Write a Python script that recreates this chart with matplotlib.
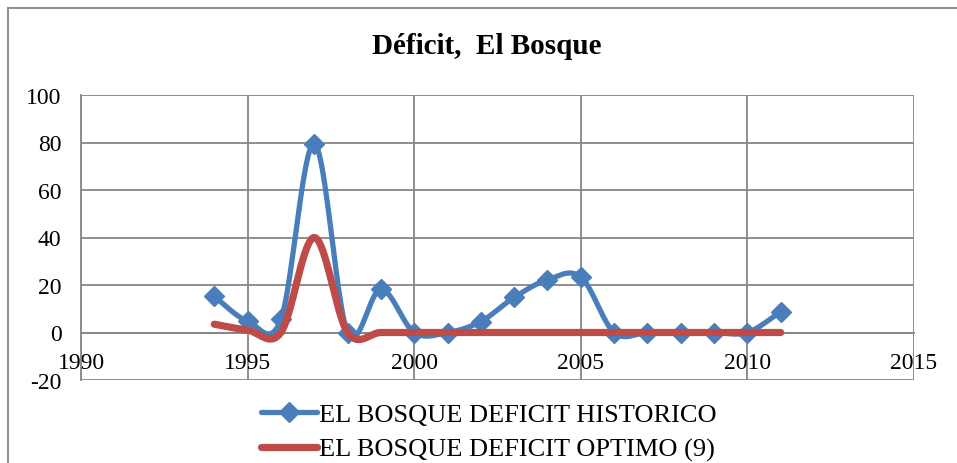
import numpy as np
import matplotlib
matplotlib.use("Agg")
import matplotlib.pyplot as plt
from matplotlib.lines import Line2D

years = [1994, 1995, 1996, 1997, 1998, 1999, 2000, 2001, 2002, 2003, 2004, 2005, 2006, 2007, 2008, 2009, 2010, 2011]
historico = [15.2, 4.8, 5.5, 79.5, 0, 18.2, 0, 0, 4.6, 14.8, 22.2, 23.4, 0, 0, 0, 0, 0, 8.8]
optimo = [3.5, 1.0, 0, 40, 0, 0, 0, 0, 0, 0, 0, 0, 0, 0, 0, 0, 0, 0]

x_ticks = [1990, 1995, 2000, 2005, 2010, 2015]
y_ticks = [-20, 0, 20, 40, 60, 80, 100]

title = "Déficit,  El Bosque"
lab_hist = "EL BOSQUE DEFICIT HISTORICO"
lab_opt = "EL BOSQUE DEFICIT OPTIMO (9)"

BLUE = "#4a7ebb"
RED = "#be4b48"
GRID = "#868686"

plt.rcParams["font.family"] = ["Liberation Serif", "DejaVu Serif"]
plt.rcParams["axes.unicode_minus"] = False


def smooth(x, y, n=40):
    # Catmull-Rom style curve, like the "smoothed line" option of a spreadsheet
    x = np.asarray(x, float)
    y = np.asarray(y, float)
    px = np.concatenate([[x[0]], x, [x[-1]]])
    py = np.concatenate([[y[0]], y, [y[-1]]])
    t = np.linspace(0, 1, n)
    xs, ys = [], []
    for i in range(1, len(px) - 2):
        for p, out in ((px, xs), (py, ys)):
            p0, p1, p2, p3 = p[i - 1], p[i], p[i + 1], p[i + 2]
            c1 = p1 + (p2 - p0) / 6
            c2 = p2 - (p3 - p1) / 6
            out.append((1 - t) ** 3 * p1 + 3 * (1 - t) ** 2 * t * c1
                       + 3 * (1 - t) * t ** 2 * c2 + t ** 3 * p2)
    return np.concatenate(xs), np.concatenate(ys)


fig = plt.figure(figsize=(9.57, 4.64), dpi=100)
ax = fig.add_axes([81 / 957, 1 - 381 / 464, (914 - 81) / 957, (381 - 96) / 464])

hx, hy = smooth(years, historico)
ox, oy = smooth(years, optimo)
ax.plot(hx, hy, color=BLUE, lw=3.8, solid_capstyle="round", zorder=3)
ax.plot(years, historico, ls="none", marker="D", ms=10, color=BLUE, zorder=3)
ax.plot(ox, oy, color=RED, lw=5.2, solid_capstyle="round", zorder=4)

ax.set_xlim(1990, 2015)
ax.set_ylim(-20, 100)
ax.set_xticks(x_ticks)
ax.set_yticks(y_ticks)
ax.grid(True, color=GRID, lw=1.3)
ax.set_axisbelow(True)
for s in ("top", "right"):
    ax.spines[s].set_visible(False)
ax.spines["left"].set_color(GRID)
ax.spines["left"].set_linewidth(1.3)
ax.spines["bottom"].set_position(("data", 0))
ax.spines["bottom"].set_color(GRID)
ax.spines["bottom"].set_linewidth(1.3)
ax.tick_params(axis="x", length=0, pad=14, labelsize=17)
ax.tick_params(axis="y", length=0, pad=14, labelsize=17)

fig.text(487 / 957, 1 - 47 / 464, title, ha="center", va="center",
         fontsize=21, fontweight="bold")

handles = [
    Line2D([], [], color=BLUE, lw=3.8, marker="D", ms=10, solid_capstyle="round"),
    Line2D([], [], color=RED, lw=5.2, solid_capstyle="round"),
]
fig.legend(handles, [lab_hist, lab_opt], loc="center",
           bbox_to_anchor=(489 / 957, 1 - 433 / 464), frameon=False,
           fontsize=19, handlelength=2.1, handletextpad=0.1,
           labelspacing=0.42, borderpad=0, numpoints=1)

fig.add_artist(Line2D([8 / 957, 1], [1 - 9 / 464, 1 - 9 / 464], color=GRID, lw=1.3))
fig.add_artist(Line2D([8 / 957, 8 / 957], [0, 1 - 9 / 464], color=GRID, lw=1.3))

fig.savefig("out.png", dpi=100)
